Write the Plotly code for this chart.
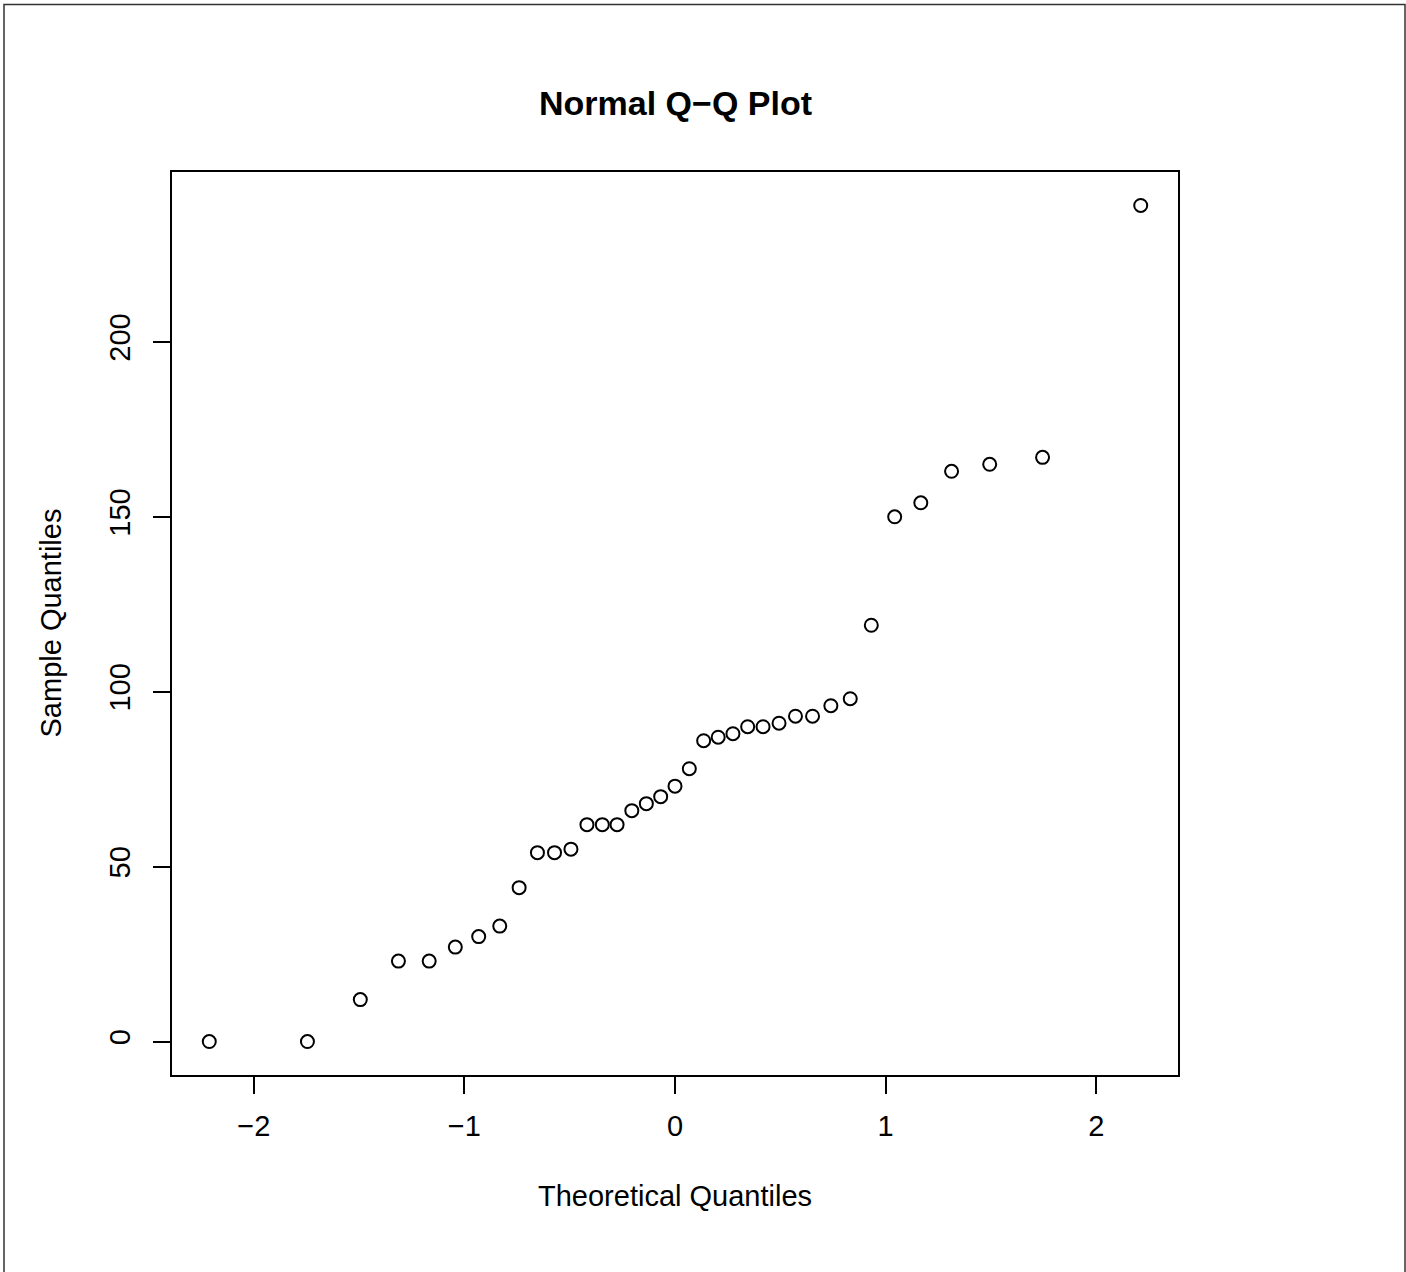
import plotly.graph_objects as go

# Theoretical normal quantiles (x) and sorted sample values (y)
theoretical = [-2.211, -1.745, -1.494, -1.313, -1.167, -1.043, -0.932, -0.832, -0.740,
               -0.653, -0.572, -0.494, -0.418, -0.345, -0.275, -0.205, -0.136, -0.068,
               0.000, 0.068, 0.136, 0.205, 0.275, 0.345, 0.418, 0.494, 0.572, 0.653,
               0.740, 0.832, 0.932, 1.043, 1.167, 1.313, 1.494, 1.745, 2.211]
sample = [0, 0, 12, 23, 23, 27, 30, 33, 44, 54, 54, 55, 62, 62, 62, 66, 68, 70, 73, 78,
          86, 87, 88, 90, 90, 91, 93, 93, 96, 98, 119, 150, 154, 163, 165, 167, 239]

x_ticks = [-2, -1, 0, 1, 2]
x_tick_text = ["\u22122", "\u22121", "0", "1", "2"]
y_ticks = [0, 50, 100, 150, 200]
y_tick_text = ["0", "50", "100", "150", "200"]

title_text = "Normal Q\u2212Q Plot"
x_label = "Theoretical Quantiles"
y_label = "Sample Quantiles"

FONT = "Liberation Sans, Arial, Helvetica, sans-serif"

fig = go.Figure()
fig.add_trace(go.Scatter(
    x=theoretical, y=sample, mode="markers",
    marker=dict(symbol="circle-open", size=13, color="black", line=dict(width=2, color="black")),
    showlegend=False, hoverinfo="x+y",
))

L, R, T, B = 172, 1178, 172, 1075
W, H = 1406, 1272

def px_x(p):
    return (p - L) / (R - L)

def px_y(p):
    return (B - p) / (B - T)

fig.update_layout(
    width=W, height=H,
    margin=dict(l=L, r=W - R, t=T, b=H - B, pad=0),
    paper_bgcolor="white", plot_bgcolor="white",
    font=dict(family=FONT, size=29, color="black"),
    showlegend=False,
)

fig.update_xaxes(
    range=[-2.388, 2.388], showgrid=False, zeroline=False,
    showline=True, mirror=True, linecolor="black", linewidth=2,
    ticks="outside", ticklen=17, tickwidth=2, tickcolor="black",
    tickvals=x_ticks, ticktext=x_tick_text, ticklabelstandoff=7,
    tickfont=dict(family=FONT, size=29, color="black"),
)
fig.update_yaxes(
    range=[-9.56, 248.56], showgrid=False, zeroline=False,
    showline=True, mirror=True, linecolor="black", linewidth=2,
    ticks="outside", ticklen=17, tickwidth=2, tickcolor="black",
    tickvals=y_ticks, ticktext=y_tick_text, tickangle=-90, ticklabelstandoff=11,
    tickfont=dict(family=FONT, size=29, color="black"),
)

fig.add_annotation(text="<b>" + title_text + "</b>", xref="paper", yref="paper",
                   x=0.5, y=px_y(103), xanchor="center", yanchor="middle",
                   showarrow=False, font=dict(family=FONT, size=34, color="black"))
fig.add_annotation(text=x_label, xref="paper", yref="paper",
                   x=0.5, y=px_y(1196), xanchor="center", yanchor="middle",
                   showarrow=False, font=dict(family=FONT, size=29, color="black"))
fig.add_annotation(text=y_label, xref="paper", yref="paper",
                   x=px_x(50), y=0.5, xanchor="center", yanchor="middle", textangle=-90,
                   showarrow=False, font=dict(family=FONT, size=29, color="black"))

# outer frame around the figure
fig.add_shape(type="rect", xref="paper", yref="paper",
              x0=px_x(4), x1=px_x(1405), y0=px_y(1290), y1=px_y(4.5),
              line=dict(color="#333333", width=1.5), fillcolor="rgba(0,0,0,0)", layer="above")

fig.write_html("out.html")
